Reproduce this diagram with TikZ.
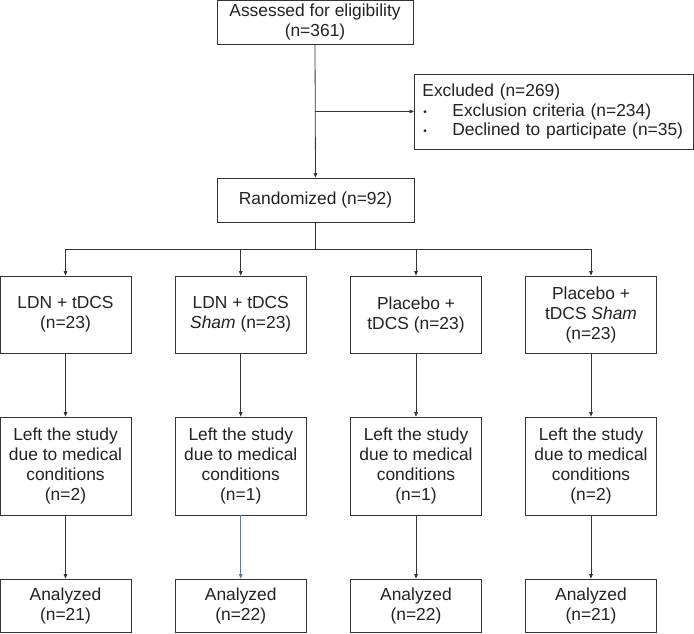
\documentclass[tikz,border=0pt]{standalone}
\usepackage{fontspec}
\setmainfont{Liberation Sans}
\usetikzlibrary{arrows.meta}
\definecolor{linec}{HTML}{333333}
\definecolor{textc}{HTML}{222222}
\definecolor{bluec}{HTML}{4A78D0}
\begin{document}
\begin{tikzpicture}[x=1pt,y=-1pt,
  box/.style={draw=linec, line width=0.8pt, inner sep=0pt, align=center,
    text=textc, font=\fontsize{17.4}{20}\selectfont},
  arr/.style={draw=linec, line width=0.8pt, -{Triangle[length=4.5pt,width=3.6pt]}},
  ln/.style={draw=linec, line width=0.8pt}]
\useasboundingbox (0,0) rectangle (694,633);
\node[box, minimum width=196, minimum height=44] (top) at (315,22) {Assessed for eligibility\\(n=361)};
\node[box, minimum width=279, minimum height=75, text width=271, align=left, anchor=west] (excl) at (414,111.5)
  {\hspace*{4pt}Excluded (n=269)\\[-0.5pt]
   \hspace*{5pt}\makebox[29pt][l]{\raisebox{1pt}{\fontsize{10}{10}\selectfont\textbullet}}Exclusion criteria (n=234)\\[-0.5pt]
   \hspace*{5pt}\makebox[29pt][l]{\raisebox{1pt}{\fontsize{10}{10}\selectfont\textbullet}}Declined to participate (n=35)};
\node[box, minimum width=197, minimum height=44] (rand) at (315.5,200) {Randomized (n=92)};
\node[box, minimum width=131, minimum height=77] (g1) at (65.5,314.5) {LDN + tDCS\\(n=23)};
\node[box, minimum width=130.5, minimum height=77] (g2) at (240.75,314.5) {LDN + tDCS\\\textit{Sham} (n=23)};
\node[box, minimum width=130.5, minimum height=77] (g3) at (416,314.5) {Placebo +\\tDCS (n=23)};
\node[box, minimum width=130.5, minimum height=77] (g4) at (591,314.5) {Placebo +\\tDCS \textit{Sham}\\(n=23)};
\node[box, minimum width=131, minimum height=98] (l1) at (65.5,466) {Left the study\\due to medical\\conditions\\(n=2)};
\node[box, minimum width=130.5, minimum height=98] (l2) at (240.75,466) {Left the study\\due to medical\\conditions\\(n=1)};
\node[box, minimum width=130.5, minimum height=98] (l3) at (416,466) {Left the study\\due to medical\\conditions\\(n=1)};
\node[box, minimum width=130.5, minimum height=98] (l4) at (591,466) {Left the study\\due to medical\\conditions\\(n=2)};
\node[box, minimum width=131, minimum height=53] (a1) at (65.5,605.5) {Analyzed\\(n=21)};
\node[box, minimum width=130.5, minimum height=53] (a2) at (240.75,605.5) {Analyzed\\(n=22)};
\node[box, minimum width=130.5, minimum height=53] (a3) at (416,605.5) {Analyzed\\(n=22)};
\node[box, minimum width=130.5, minimum height=53] (a4) at (591,605.5) {Analyzed\\(n=21)};
\draw[arr] (top.south) -- (rand.north);
\coordinate (ej) at (top.south |- excl.west);
\draw[arr] (ej) -- (excl.west);
\coordinate (br) at (315.5,249);
\draw[ln] (rand.south) -- (br);
\foreach \i in {1,2,3,4} {
  \draw[arr] (br) -| (g\i.north);
  \draw[arr] (g\i.south) -- (l\i.north);
}
\draw[arr] (l1.south) -- (a1.north);
\draw[arr, draw=bluec] (l2.south) -- (a2.north);
\draw[arr] (l3.south) -- (a3.north);
\draw[arr] (l4.south) -- (a4.north);
\end{tikzpicture}
\end{document}
